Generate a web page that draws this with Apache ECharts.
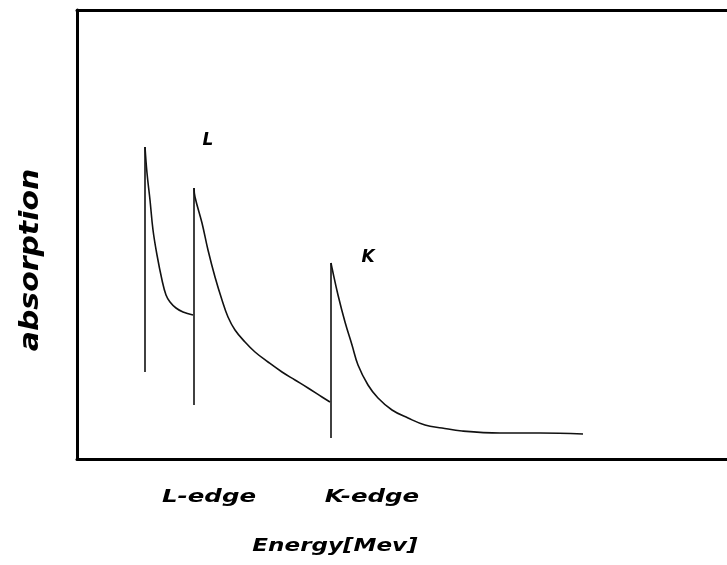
<!DOCTYPE html>
<html>
<head>
<meta charset="utf-8">
<script src="https://cdn.jsdelivr.net/npm/echarts@6/dist/echarts.min.js"></script>
<style>
  html, body { margin: 0; padding: 0; background: #fff; }
  #chart { width: 727px; height: 565px; }
</style>
</head>
<body>
<div id="chart"></div>
<script>
// Absorption vs photon energy: L sub-shell edges and the K edge (arbitrary units)

// Absorption edges: energy, absorption just below the jump, absorption at the peak
const edgeEnergy = [6.8, 11.7, 25.4];
const edgeLow = [8.7, 5.4, 2.1];
const edgeHigh = [31.2, 27.1, 19.6];

// Decay after each edge
const l1Energy = [6.8, 7.0, 7.3, 7.6, 8.0, 8.5, 8.9, 9.3, 9.9, 10.6, 11.6];
const l1Absorb = [31.2, 28.6, 25.9, 22.9, 20.4, 17.9, 16.4, 15.7, 15.1, 14.7, 14.4];

const l2Energy = [11.7, 11.8, 12.5, 13.1, 13.8, 14.5, 15.1, 15.8, 16.8, 17.8, 19.1, 20.5, 21.8, 23.1, 24.5, 25.3];
const l2Absorb = [27.1, 26.2, 23.6, 20.9, 18.2, 15.9, 14.2, 12.9, 11.7, 10.7, 9.7, 8.7, 7.9, 7.1, 6.2, 5.7];

const kEnergy = [25.4, 25.5, 26.1, 26.8, 27.5, 28.1, 29.1, 30.1, 31.5, 33.1, 34.8, 36.5, 38.5, 42.3, 46.3, 50.6];
const kAbsorb = [19.6, 19.1, 16.4, 13.7, 11.4, 9.4, 7.4, 6.1, 4.9, 4.1, 3.4, 3.1, 2.8, 2.6, 2.6, 2.5];

const peakLabels = ['L', 'K'];
const edgeLabels = ['L-edge', 'K-edge'];
const xTitle = 'Energy[Mev]';
const yTitle = 'absorption';

const pairs = (xs, ys) => xs.map((x, i) => [x, ys[i]]);

const textFont = {
  fontFamily: '"DejaVu Sans", sans-serif',
  fontWeight: 'bold',
  fontStyle: 'italic',
  fill: '#000'
};
const txt = (extra) => Object.assign({}, textFont, extra);

const lineStyle = { color: '#111', width: 1.6 };
const frameLine = { show: true, lineStyle: { color: '#000', width: 3 } };

const edgeSeries = edgeEnergy.map((e, i) => ({
  type: 'line',
  data: [[e, edgeLow[i]], [e, edgeHigh[i]]],
  showSymbol: false, smooth: false, lineStyle
}));

const decaySeries = [
  pairs(l1Energy, l1Absorb),
  pairs(l2Energy, l2Absorb),
  pairs(kEnergy, kAbsorb)
].map(d => ({
  type: 'line', data: d,
  showSymbol: false, smooth: 0.4, lineStyle
}));

const bareAxis = {
  type: 'value', min: 0,
  axisTick: { show: false }, axisLabel: { show: false }, splitLine: { show: false }
};

const chart = echarts.init(document.getElementById('chart'), null, { renderer: 'canvas' });
chart.setOption({
  animation: false,
  backgroundColor: '#fff',
  grid: { left: 77, top: 10, right: 0, bottom: 106 },
  // frame: bottom, top and left edges; the right side runs off the page
  xAxis: [
    Object.assign({}, bareAxis, { max: 65, position: 'bottom', axisLine: frameLine }),
    Object.assign({}, bareAxis, { max: 65, position: 'top', axisLine: frameLine })
  ],
  yAxis: Object.assign({}, bareAxis, { max: 44.9, position: 'left', axisLine: frameLine }),
  series: edgeSeries.concat(decaySeries),
  graphic: [
    { type: 'text', x: 208, y: 141, style: txt({ text: peakLabels[0], fontSize: 17, align: 'center', verticalAlign: 'middle' }) },
    { type: 'text', x: 368, y: 258, style: txt({ text: peakLabels[1], fontSize: 17, align: 'center', verticalAlign: 'middle' }) },
    { type: 'text', x: 209, y: 497, scaleX: 1.36, style: txt({ text: edgeLabels[0], fontSize: 18, align: 'center', verticalAlign: 'middle' }) },
    { type: 'text', x: 372, y: 497, scaleX: 1.36, style: txt({ text: edgeLabels[1], fontSize: 18, align: 'center', verticalAlign: 'middle' }) },
    { type: 'text', x: 335, y: 546, scaleX: 1.28, style: txt({ text: xTitle, fontSize: 18, align: 'center', verticalAlign: 'middle' }) },
    { type: 'text', x: 31, y: 260, rotation: Math.PI / 2, scaleX: 1.15, style: txt({ text: yTitle, fontSize: 26, align: 'center', verticalAlign: 'middle' }) }
  ]
});
</script>
</body>
</html>
